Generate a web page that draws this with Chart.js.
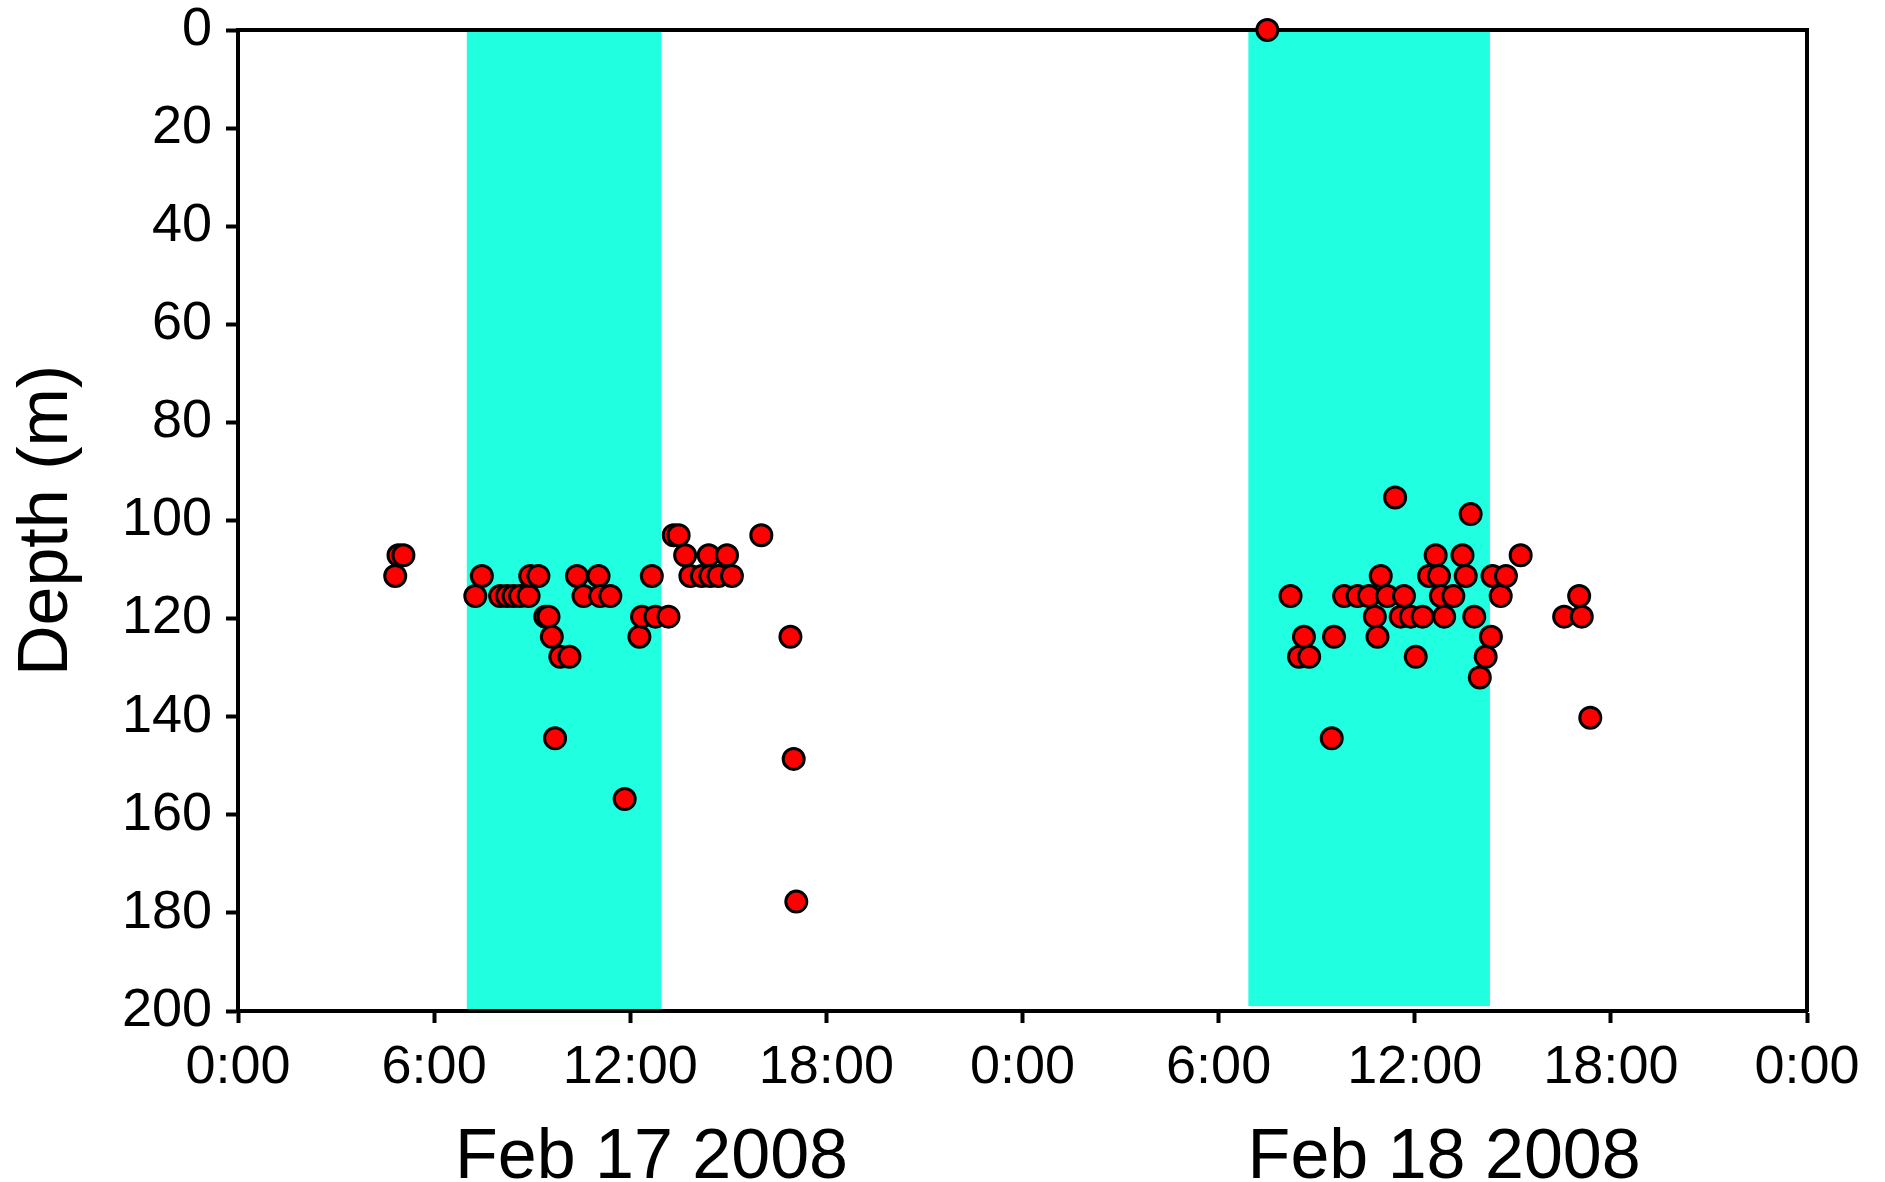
<!DOCTYPE html>
<html>
<head>
<meta charset="utf-8">
<title>Depth</title>
<script src="https://cdn.jsdelivr.net/npm/chart.js"></script>
<style>
  body { margin: 0; background: #fff; }
  canvas { display: block; }
</style>
</head>
<body>
<canvas id="chart" width="1885" height="1182"></canvas>
<script>
// Hours since Feb 17 2008 0:00
const hours = [
    4.81, 4.91, 5.06, 7.26, 7.46, 8.02, 8.23, 8.43, 8.63, 8.89,
    8.94, 9.19, 9.40, 9.50, 9.60, 9.70, 9.86, 10.14, 10.37, 10.57,
    11.03, 11.08, 11.39, 11.83, 12.28, 12.36, 12.66, 12.77, 13.17, 13.33,
    13.48, 13.68, 13.84, 14.19, 14.40, 14.45, 14.70, 14.96, 15.11, 16.01,
    16.90, 17.00, 17.08,
    31.49, 32.20, 32.46, 32.61, 32.77, 33.46, 33.53, 33.84, 34.25, 34.60,
    34.78, 34.86, 34.96, 35.16, 35.40, 35.57, 35.67, 35.88, 36.03, 36.24,
    36.44, 36.64, 36.74, 36.80, 36.90, 37.18, 37.46, 37.56, 37.71, 37.82,
    37.99, 38.17, 38.33, 38.38, 38.63, 38.79, 39.24, 40.57, 41.03, 41.11,
    41.37
];
const depths = [
    111.3, 107.1, 107.1, 115.4, 111.3, 115.4, 115.4, 115.4, 115.4, 115.4,
    111.3, 111.3, 119.6, 119.6, 123.7, 144.4, 127.8, 127.8, 111.3, 115.4,
    111.3, 115.4, 115.4, 156.8, 123.7, 119.6, 111.3, 119.6, 119.6, 103.0,
    103.0, 107.1, 111.3, 111.3, 107.1, 111.3, 111.3, 107.1, 111.3, 103.0,
    123.7, 148.6, 177.7,
    0, 115.4, 127.8, 123.7, 127.8, 144.4, 123.7, 115.4, 115.4, 115.4,
    119.6, 123.7, 111.3, 115.4, 95.3, 119.6, 115.4, 119.6, 127.8, 119.6,
    111.3, 107.1, 111.3, 115.4, 119.6, 115.4, 107.1, 111.3, 98.7, 119.6,
    132.0, 127.8, 123.7, 111.3, 115.4, 111.3, 107.1, 119.6, 115.4, 119.6,
    140.2
];

// Shaded periods (hours) and the depth they reach down to
const bandStart = [7.0, 30.91];
const bandEnd = [12.95, 38.3];
const bandBottom = [200, 199];

const xTickLabels = ['0:00', '6:00', '12:00', '18:00', '0:00', '6:00', '12:00', '18:00', '0:00'];
const dateLabels = ['Feb 17 2008', 'Feb 18 2008'];
const dateLabelHours = [12.65, 36.9];

const FONT = "'Liberation Sans', Arial, sans-serif";

const points = hours.map((h, i) => ({ x: h, y: depths[i] }));

const bandPlugin = {
    id: 'bands',
    beforeDraw(chart) {
        const { ctx, scales: { x, y } } = chart;
        ctx.save();
        ctx.fillStyle = '#20ffe0';
        bandStart.forEach((s, i) => {
            const x1 = x.getPixelForValue(s);
            const x2 = x.getPixelForValue(bandEnd[i]);
            const y1 = y.getPixelForValue(0);
            const y2 = y.getPixelForValue(bandBottom[i]);
            ctx.fillRect(x1, y1, x2 - x1, y2 - y1);
        });
        ctx.restore();
    }
};

const dateLabelPlugin = {
    id: 'dateLabels',
    afterDraw(chart) {
        const { ctx, scales: { x } } = chart;
        ctx.save();
        ctx.font = '70px ' + FONT;
        ctx.fillStyle = '#000';
        ctx.textAlign = 'center';
        ctx.textBaseline = 'alphabetic';
        dateLabels.forEach((t, i) => {
            ctx.fillText(t, x.getPixelForValue(dateLabelHours[i]), x.bottom - 4);
        });
        ctx.restore();
    }
};

const axisGrid = {
    drawOnChartArea: false,
    drawTicks: true,
    tickLength: 12,
    tickWidth: 4,
    color: '#000'
};
const axisBorder = { display: true, width: 4, color: '#000' };

new Chart(document.getElementById('chart'), {
    type: 'scatter',
    data: {
        datasets: [{
            data: points,
            pointRadius: 10.5,
            pointHoverRadius: 10.5,
            borderWidth: 3,
            backgroundColor: '#ff0000',
            borderColor: '#000',
            clip: false
        }]
    },
    options: {
        responsive: false,
        animation: false,
        events: [],
        layout: { padding: { left: 0, right: 78, top: 0, bottom: 0 } },
        plugins: {
            legend: { display: false },
            tooltip: { enabled: false }
        },
        scales: {
            x: {
                type: 'linear',
                position: 'bottom',
                min: 0,
                max: 48,
                ticks: {
                    stepSize: 6,
                    autoSkip: false,
                    maxRotation: 0,
                    padding: 13,
                    color: '#000',
                    font: { size: 54, family: FONT },
                    callback: (v, i) => xTickLabels[i]
                },
                grid: axisGrid,
                border: axisBorder,
                afterFit: s => {
                    s.height = 171;
                    s.paddingLeft = 0;
                    s.paddingRight = 0;
                }
            },
            y: {
                type: 'linear',
                position: 'left',
                reverse: true,
                min: 0,
                max: 200,
                ticks: {
                    stepSize: 20,
                    padding: 14,
                    color: '#000',
                    font: { size: 54, family: FONT }
                },
                grid: axisGrid,
                border: axisBorder,
                title: {
                    display: true,
                    text: 'Depth (m)',
                    color: '#000',
                    font: { size: 70, family: FONT, lineHeight: 1 },
                    padding: { top: 13, bottom: 0 }
                },
                afterFit: s => {
                    s.width = 238;
                    s.paddingTop = 0;
                    s.paddingBottom = 0;
                }
            },
            xTop: {
                type: 'linear',
                position: 'top',
                min: 0,
                max: 48,
                ticks: { display: false },
                grid: { display: false },
                border: axisBorder,
                afterFit: s => { s.height = 30; }
            },
            yRight: {
                type: 'linear',
                position: 'right',
                min: 0,
                max: 200,
                ticks: { display: false },
                grid: { display: false },
                border: axisBorder,
                afterFit: s => { s.width = 0; }
            }
        }
    },
    plugins: [bandPlugin, dateLabelPlugin]
});
</script>
</body>
</html>
